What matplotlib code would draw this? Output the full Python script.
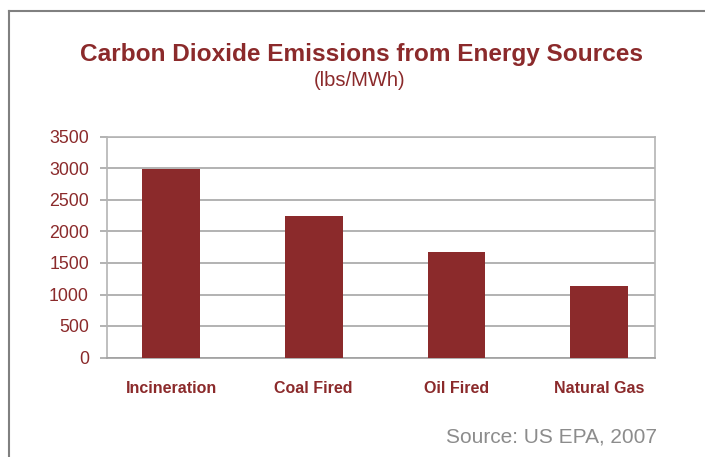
import matplotlib
matplotlib.use('Agg')
import matplotlib.pyplot as plt
from matplotlib.lines import Line2D

plt.rcParams['font.family'] = ['Liberation Sans', 'DejaVu Sans']

sources = ['Incineration', 'Coal Fired', 'Oil Fired', 'Natural Gas']
emissions = [2988, 2249, 1672, 1135]
yticks = [0, 500, 1000, 1500, 2000, 2500, 3000, 3500]

red = '#8b2a2b'
gray = '#a6a6a6'

fig = plt.figure(figsize=(7.05, 4.57), dpi=100)
ax = fig.add_axes([107/705, 1-357.5/457, 548/705, 220.5/457])

x = list(range(len(sources)))
ax.bar(x, emissions, width=0.405, color=red, zorder=3)
ax.set_xlim(-0.449, 3.392)
ax.set_ylim(0, 3500)
ax.set_yticks(yticks)
ax.yaxis.grid(True, color=gray, linewidth=1.2, zorder=0)
ax.set_xticks(x)
ax.set_xticklabels(sources, fontsize=11.5, fontweight='bold', color=red)
ax.tick_params(axis='x', length=0, pad=17)
ax.tick_params(axis='y', labelsize=12.8, labelcolor=red, length=5, width=1.2,
               color=gray, pad=8)
for s in ax.spines.values():
    s.set_color('#b4b4b4')
    s.set_linewidth(1.2)
ax.spines['bottom'].set_color('#a0a0a0')

fig.text(361/705, 1-55/457, 'Carbon Dioxide Emissions from Energy Sources',
         ha='center', va='center', fontsize=17.6, fontweight='bold', color=red)
fig.text(360/705, 1-80/457, '(lbs/MWh)', ha='center', va='center',
         fontsize=14.5, color=red)
fig.text(657/705, 1-437/457, 'Source: US EPA, 2007', ha='right', va='center',
         fontsize=15, color='#8c8c8c')

# slide frame
fig.add_artist(Line2D([8.5/705, 8.5/705], [0, 1-11/457], color='#808080', linewidth=1.5))
fig.add_artist(Line2D([8.5/705, 1], [1-11/457, 1-11/457], color='#808080', linewidth=1.5))

fig.savefig('out.png', dpi=100)
